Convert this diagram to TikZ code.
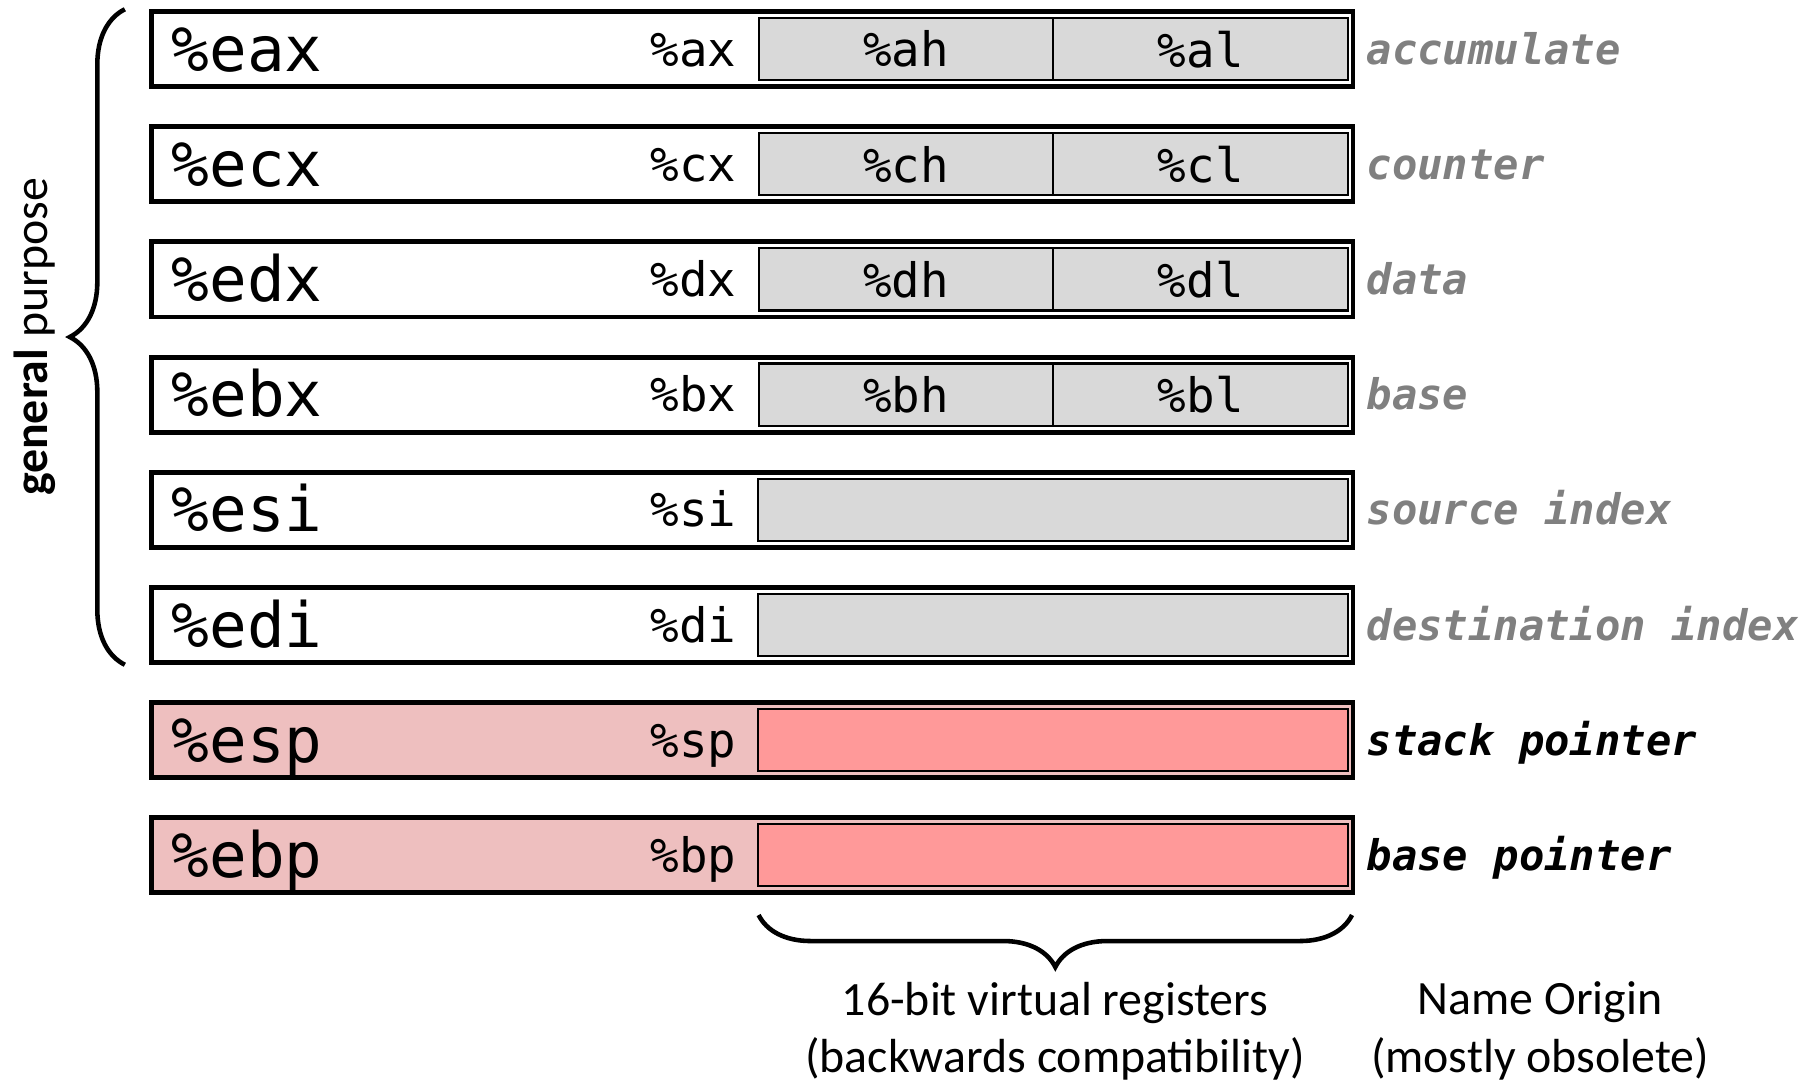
\documentclass[tikz,border=0pt]{standalone}
\usepackage{fontspec}
\setmainfont{Carlito}
\setsansfont{Carlito}
\setmonofont{DejaVu Sans Mono}[ItalicFont={DejaVu Sans Mono Oblique},
  BoldFont={DejaVu Sans Mono Bold}, BoldItalicFont={DejaVu Sans Mono Bold Oblique}]
\usetikzlibrary{decorations.pathreplacing}
\definecolor{bytegray}{HTML}{D9D9D9}
\definecolor{ptrpink}{HTML}{EEBFBF}
\definecolor{ptrred}{HTML}{FF9999}
\definecolor{origingray}{HTML}{808080}
\tikzset{
    regbox/.style={draw, line width=1.4pt, minimum width=12.01cm,
    	minimum height=0.75cm, inner sep=0pt},
    halfbox/.style={draw, line width=0.6pt, fill=bytegray, minimum width=2.947cm,
    	minimum height=0.62cm, inner sep=0pt, font=\ttfamily\fontsize{13.5}{14}\selectfont},
    wordbox/.style={draw, line width=0.6pt, fill=bytegray, minimum width=5.894cm,
    	minimum height=0.62cm, inner sep=0pt},
    bigname/.style={anchor=base west, inner sep=0pt, font=\ttfamily\fontsize{17.8}{20}\selectfont},
    smallname/.style={anchor=base east, inner sep=0pt, font=\ttfamily\fontsize{13.5}{14}\selectfont},
    origin/.style={anchor=base west, inner sep=0pt, text=origingray,
    	font=\ttfamily\bfseries\itshape\fontsize{12}{14}\selectfont},
    note/.style={align=center, inner sep=0pt, font=\fontsize{13.6}{16.3}\selectfont},
    bracepath/.style={decorate, line width=1.3pt}
}

\begin{document}
\begin{tikzpicture}[x=0.01cm, y=-0.01cm]
  \useasboundingbox (0,0) rectangle (1816,1081);

  % general purpose registers
  \node (eax) [regbox] at (752.15, 49.25) {};
  \node (ecx) [regbox] at (752.15, 164.35) {};
  \node (edx) [regbox] at (752.15, 279.45) {};
  \node (ebx) [regbox] at (752.15, 394.55) {};
  \node (esi) [regbox] at (752.15, 509.65) {};
  \node (edi) [regbox] at (752.15, 624.75) {};
  \node (esp) [regbox, fill=ptrpink] at (752.15, 739.85) {};
  \node (ebp) [regbox, fill=ptrpink] at (752.15, 854.95) {};

  % byte halves
  \node (ah) [halfbox] at (906, 49.25) {\%ah};
  \node (al) [halfbox] at (1200.7, 49.25) {\%al};
  \node (ch) [halfbox] at (906, 164.35) {\%ch};
  \node (cl) [halfbox] at (1200.7, 164.35) {\%cl};
  \node (dh) [halfbox] at (906, 279.45) {\%dh};
  \node (dl) [halfbox] at (1200.7, 279.45) {\%dl};
  \node (bh) [halfbox] at (906, 394.55) {\%bh};
  \node (bl) [halfbox] at (1200.7, 394.55) {\%bl};
  \node (siw) [wordbox] at (1053.3, 509.65) {};
  \node (diw) [wordbox] at (1053.3, 624.75) {};
  \node (spw) [wordbox, fill=ptrred] at (1053.3, 739.85) {};
  \node (bpw) [wordbox, fill=ptrred] at (1053.3, 854.95) {};

  % 32-bit names
  \node (neax) [bigname] at (171, 71.5) {\%eax};
  \node (necx) [bigname] at (171, 186.6) {\%ecx};
  \node (nedx) [bigname] at (171, 301.7) {\%edx};
  \node (nebx) [bigname] at (171, 416.8) {\%ebx};
  \node (nesi) [bigname] at (171, 531.9) {\%esi};
  \node (nedi) [bigname] at (171, 647) {\%edi};
  \node (nesp) [bigname] at (171, 762.1) {\%esp};
  \node (nebp) [bigname] at (171, 877.2) {\%ebp};

  % 16-bit names
  \node (nax) [smallname] at (737, 66.5) {\%ax};
  \node (ncx) [smallname] at (737, 181.6) {\%cx};
  \node (ndx) [smallname] at (737, 296.7) {\%dx};
  \node (nbx) [smallname] at (737, 411.8) {\%bx};
  \node (nsi) [smallname] at (737, 526.9) {\%si};
  \node (ndi) [smallname] at (737, 642) {\%di};
  \node (nsp) [smallname] at (737, 757.1) {\%sp};
  \node (nbp) [smallname] at (737, 872.2) {\%bp};

  % name origins
  \node (oax) [origin] at (1366, 64.5) {accumulate};
  \node (ocx) [origin] at (1366, 179.6) {counter};
  \node (odx) [origin] at (1366, 294.7) {data};
  \node (obx) [origin] at (1366, 409.8) {base};
  \node (osi) [origin] at (1366, 524.9) {source index};
  \node (odi) [origin] at (1366, 640) {destination index};
  \node (osp) [origin, text=black] at (1366, 755.1) {stack pointer};
  \node (obp) [origin, text=black] at (1366, 870.2) {base pointer};

  % braces
  \draw [bracepath, decoration={brace, amplitude=0.55cm}]
    (eax.north west) ++(-24,0) coordinate (gtop)
    (edi.south west) ++(-24,0) coordinate (gbot)
    (gbot) -- (gtop);
  \node (gp) [note, rotate=90] at (35, 337) {\textbf{general} purpose};

  \coordinate (vl) at (758.6, 915);
  \coordinate (vr) at (1352, 915);
  \draw [bracepath, decoration={brace, amplitude=0.52cm}] (vr) -- (vl);
  \node (virt) [note] at (1055, 1031) {16-bit virtual registers\\(backwards compatibility)};
  \node (orig) [note] at (1540, 1031) {Name Origin\\(mostly obsolete)};
\end{tikzpicture}
\end{document}
